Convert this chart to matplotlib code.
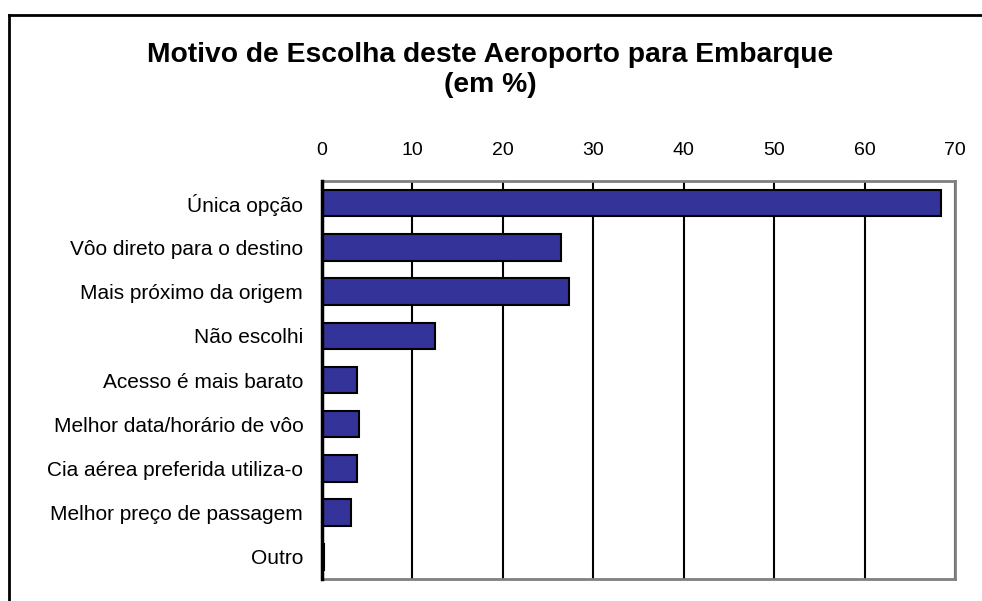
import matplotlib
matplotlib.use("Agg")
import matplotlib.pyplot as plt
from matplotlib.lines import Line2D

plt.rcParams['font.family'] = ['Liberation Sans', 'DejaVu Sans']

categories = ["Única opção", "Vôo direto para o destino", "Mais próximo da origem",
              "Não escolhi", "Acesso é mais barato", "Melhor data/horário de vôo",
              "Cia aérea preferida utiliza-o", "Melhor preço de passagem", "Outro"]
values = [68.4, 26.4, 27.3, 12.5, 3.9, 4.1, 3.9, 3.2, 0.2]
xticks = [0, 10, 20, 30, 40, 50, 60, 70]
title = "Motivo de Escolha deste Aeroporto para Embarque\n(em %)"

W, H = 982, 601
fig = plt.figure(figsize=(W/100, H/100), dpi=100)
ax = fig.add_axes([322/W, 1-579/H, (955-322)/W, (579-181)/H])

ypos = list(range(len(categories)))
ax.barh(ypos, values, height=0.6, color="#333399", edgecolor="black", linewidth=1.5, zorder=3)
ax.set_ylim(len(categories)-0.5, -0.5)
ax.set_xlim(0, 70)
ax.set_yticks(ypos)
ax.set_yticklabels(categories, fontsize=15)
ax.set_xticks(xticks)
ax.set_xticklabels([str(t) for t in xticks], fontsize=14)
ax.xaxis.tick_top()
ax.tick_params(axis='y', length=0, pad=13.5)
ax.tick_params(axis='x', length=0, pad=16)
ax.grid(axis='x', color='black', linewidth=1.5, zorder=1)
for s in ['top', 'right', 'bottom']:
    ax.spines[s].set_color('#808080')
    ax.spines[s].set_linewidth(2)
ax.spines['left'].set_color('black')
ax.spines['left'].set_linewidth(2.5)
ax.spines['left'].set_zorder(4)

fig.text(490/W, 1-70/H, title, ha='center', va='center', fontsize=20.3,
         fontweight='bold', linespacing=1.15)

# outer chart border (extends past right and bottom edges)
fig.add_artist(Line2D([9/W, 9/W], [0, 1-15/H], transform=fig.transFigure, color='black', linewidth=2))
fig.add_artist(Line2D([9/W, 1], [1-15/H, 1-15/H], transform=fig.transFigure, color='black', linewidth=2))

fig.savefig("out.png", dpi=100)
